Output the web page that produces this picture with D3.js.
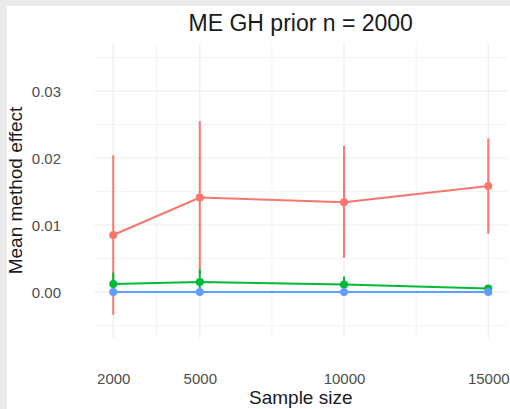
<!DOCTYPE html>
<html>
<head>
<meta charset="utf-8">
<script src="https://cdn.jsdelivr.net/npm/d3@7"></script>
<style>
html,body{margin:0;padding:0;background:#fff;}
svg{display:block;font-family:"Liberation Sans",Arial,sans-serif;}
</style>
</head>
<body>
<svg id="chart" width="510" height="409"></svg>
<script>
// ---- data ----
const sampleSizes = [2000, 5000, 10000, 15000];
const xTickLabels = ["2000", "5000", "10000", "15000"];
const yTicks = [0.00, 0.01, 0.02, 0.03];
const yTickLabels = ["0.00", "0.01", "0.02", "0.03"];
const xMinor = [3500, 7500, 12500];
const yMinor = [-0.005, 0.005, 0.015, 0.025, 0.035];

const seriesNames = ["method A", "method B", "method C"];
const seriesColors = ["#F8766D", "#00BA38", "#619CFF"];

const meanA  = [0.0085, 0.0141, 0.0134, 0.0158];
const lowerA = [-0.0034, 0.0026, 0.0051, 0.0087];
const upperA = [0.0204, 0.0255, 0.0218, 0.0229];

const meanB  = [0.0012, 0.0015, 0.0011, 0.0005];
const lowerB = [-0.0002, -0.0003, 0.0000, 0.0002];
const upperB = [0.0029, 0.0034, 0.0023, 0.0008];

const meanC  = [0.0000, 0.0000, 0.0000, 0.0000];
const lowerC = [-0.0001, -0.0001, -0.0001, -0.0001];
const upperC = [0.0001, 0.0001, 0.0001, 0.0001];

const series = [
  {name: seriesNames[0], color: seriesColors[0], mean: meanA, lower: lowerA, upper: upperA},
  {name: seriesNames[1], color: seriesColors[1], mean: meanB, lower: lowerB, upper: upperB},
  {name: seriesNames[2], color: seriesColors[2], mean: meanC, lower: lowerC, upper: upperC}
];

// ---- layout ----
const W = 510, H = 409;
const panel = {left: 94.5, right: 507, top: 43, bottom: 338};
const svg = d3.select("#chart");

// outer frame (gray strip at top/left)
svg.append("rect").attr("width", W).attr("height", H).attr("fill", "#ebebeb");
svg.append("rect").attr("x", 7).attr("y", 6).attr("width", W - 7).attr("height", H - 6).attr("fill", "#ffffff");

const x = d3.scaleLinear().domain([1350, 15650]).range([panel.left, panel.right]);
const y = d3.scaleLinear().domain([-0.00687, 0.03716]).range([panel.bottom, panel.top]);

// grid
const g = svg.append("g");
g.selectAll(".ymin").data(yMinor).join("line")
  .attr("x1", panel.left).attr("x2", panel.right)
  .attr("y1", d => y(d)).attr("y2", d => y(d))
  .attr("stroke", "#f3f3f3").attr("stroke-width", 1);
g.selectAll(".xmin").data(xMinor).join("line")
  .attr("y1", panel.top).attr("y2", panel.bottom)
  .attr("x1", d => x(d)).attr("x2", d => x(d))
  .attr("stroke", "#f3f3f3").attr("stroke-width", 1);
g.selectAll(".ymaj").data(yTicks).join("line")
  .attr("x1", panel.left).attr("x2", panel.right)
  .attr("y1", d => y(d)).attr("y2", d => y(d))
  .attr("stroke", "#ebebeb").attr("stroke-width", 1.1);
g.selectAll(".xmaj").data(sampleSizes).join("line")
  .attr("y1", panel.top).attr("y2", panel.bottom)
  .attr("x1", d => x(d)).attr("x2", d => x(d))
  .attr("stroke", "#ebebeb").attr("stroke-width", 1.1);

// axes via d3 axis generators (no domain lines / tick marks)
const xAxis = d3.axisBottom(x).tickValues(sampleSizes).tickFormat((d, i) => xTickLabels[i]).tickSize(0).tickPadding(0);
const xg = svg.append("g").attr("transform", `translate(0,${383.5})`).call(xAxis);
xg.select(".domain").remove();
xg.selectAll("text").attr("dy", 0).attr("y", 0)
  .attr("font-size", 15).attr("fill", "#4d4d4d")
  .attr("font-family", "Liberation Sans, Arial, sans-serif");

const yAxis = d3.axisLeft(y).tickValues(yTicks).tickFormat((d, i) => yTickLabels[i]).tickSize(0).tickPadding(0);
const yg = svg.append("g").attr("transform", `translate(${61},0)`).call(yAxis);
yg.select(".domain").remove();
yg.selectAll("text").attr("dy", "0.36em").attr("x", 0)
  .attr("font-size", 15).attr("fill", "#4d4d4d")
  .attr("font-family", "Liberation Sans, Arial, sans-serif");

// series
const line = d3.line().x(d => x(d[0])).y(d => y(d[1]));
series.forEach(s => {
  const pts = sampleSizes.map((n, i) => [n, s.mean[i], s.lower[i], s.upper[i]]);
  const sg = svg.append("g");
  sg.append("path").datum(pts).attr("d", line)
    .attr("fill", "none").attr("stroke", s.color).attr("stroke-width", 2);
  sg.selectAll("line.err").data(pts).join("line")
    .attr("x1", d => x(d[0])).attr("x2", d => x(d[0]))
    .attr("y1", d => y(d[2])).attr("y2", d => y(d[3]))
    .attr("stroke", s.color).attr("stroke-width", 2);
  sg.selectAll("circle").data(pts).join("circle")
    .attr("cx", d => x(d[0])).attr("cy", d => y(d[1])).attr("r", 4)
    .attr("fill", s.color);
});

// titles
svg.append("text").attr("x", (panel.left + panel.right) / 2).attr("y", 31)
  .attr("text-anchor", "middle").attr("font-size", 23).attr("fill", "#1a1a1a")
  .text("ME GH prior n = 2000");
svg.append("text").attr("x", (panel.left + panel.right) / 2).attr("y", 404)
  .attr("text-anchor", "middle").attr("font-size", 19).attr("fill", "#1a1a1a")
  .text("Sample size");
svg.append("text").attr("transform", `translate(22,${(panel.top + panel.bottom) / 2}) rotate(-90)`)
  .attr("text-anchor", "middle").attr("font-size", 19).attr("fill", "#1a1a1a")
  .text("Mean method effect");
</script>
</body>
</html>
